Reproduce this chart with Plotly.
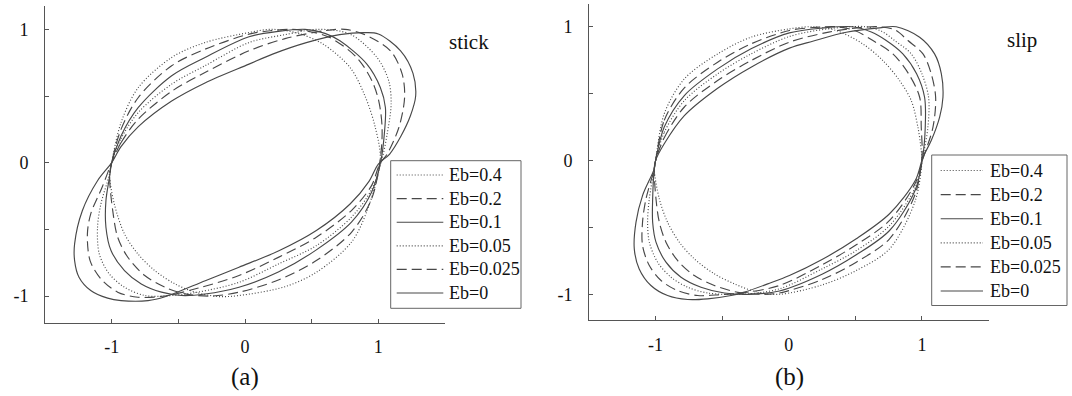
import plotly.graph_objects as go

# ---------------- data: normalised hysteresis loops ----------------
LABELS = ["Eb=0.4", "Eb=0.2", "Eb=0.1", "Eb=0.05", "Eb=0.025", "Eb=0"]
DASHES = ["1px,2px", "10px,5px", "solid", "1px,2px", "10px,5px", "solid"]
TICK_VALS_X = [-1.5, -1, -0.5, 0, 0.5, 1, 1.5]
TICK_TEXT_X = ["", "-1", "", "0", "", "1", ""]
TICK_VALS_Y = [-1, -0.5, 0, 0.5, 1]
TICK_TEXT_Y = ["-1", "", "0", "", "1"]
PANEL_TAGS = ["stick", "slip"]
PANEL_CAPTIONS = ["(a)", "(b)"]

# panel (a): stick
A_X_040 = [-1.00, -0.93, -0.80, -0.55, -0.30, 0.03, 0.20, 0.40, 0.586, 0.788, 0.90, 0.977, 1.015, 0.93, 0.80, 0.535, 0.30, -0.045, -0.197, -0.374, -0.525, -0.677, -0.803, -0.904, -0.98, -1.015, -1.00]
A_Y_040 = [0.00, 0.30, 0.564, 0.789, 0.901, 0.976, 1.00, 0.97, 0.889, 0.714, 0.50, 0.265, 0.02, -0.32, -0.594, -0.822, -0.93, -0.996, -1.004, -0.971, -0.909, -0.809, -0.684, -0.534, -0.31, -0.10, 0.00]

A_X_020 = [-1.00, -0.93, -0.80, -0.55, -0.30, 0.03, 0.20, 0.35, 0.50, 0.636, 0.838, 0.952, 1.003, 1.028, 1.015, 0.95, 0.80, 0.535, 0.25, -0.045, -0.25, -0.449, -0.601, -0.752, -0.879, -0.955, -0.992, -1.015, -1.00]
A_Y_020 = [0.00, 0.25, 0.489, 0.727, 0.851, 0.964, 0.99, 1.00, 0.98, 0.939, 0.789, 0.614, 0.464, 0.264, 0.03, -0.27, -0.52, -0.734, -0.88, -0.971, -1.00, -0.984, -0.934, -0.846, -0.709, -0.559, -0.36, -0.10, 0.00]

A_X_010 = [-1.00, -0.93, -0.80, -0.55, -0.30, 0.03, 0.25, 0.45, 0.60, 0.712, 0.914, 1.015, 1.053, 1.045, 1.02, 0.95, 0.80, 0.535, 0.25, -0.045, -0.30, -0.475, -0.626, -0.778, -0.904, -1.005, -1.043, -1.043, -1.015, -1.00]
A_Y_010 = [0.00, 0.20, 0.414, 0.652, 0.789, 0.944, 0.985, 1.00, 0.97, 0.914, 0.739, 0.564, 0.414, 0.215, 0.02, -0.22, -0.444, -0.654, -0.82, -0.934, -0.985, -0.996, -0.971, -0.909, -0.809, -0.659, -0.484, -0.285, -0.10, 0.00]

A_X_005 = [-1.00, -0.93, -0.80, -0.55, -0.30, 0.03, 0.30, 0.55, 0.788, 0.99, 1.078, 1.096, 1.066, 1.028, 0.95, 0.80, 0.535, 0.25, -0.045, -0.35, -0.60, -0.752, -0.904, -1.018, -1.093, -1.106, -1.081, -1.02, -1.00]
A_Y_005 = [0.00, 0.18, 0.377, 0.589, 0.727, 0.901, 0.96, 1.00, 0.964, 0.789, 0.614, 0.439, 0.215, 0.03, -0.20, -0.407, -0.622, -0.76, -0.897, -0.97, -1.00, -0.996, -0.934, -0.834, -0.684, -0.484, -0.31, -0.10, 0.00]

A_X_0025 = [-1.00, -0.93, -0.80, -0.55, -0.30, 0.03, 0.30, 0.60, 0.75, 0.889, 1.091, 1.179, 1.197, 1.154, 1.066, 1.01, 0.95, 0.80, 0.535, 0.25, -0.045, -0.35, -0.60, -0.803, -0.955, -1.081, -1.162, -1.182, -1.157, -1.07, -1.00]
A_Y_0025 = [0.00, 0.15, 0.327, 0.535, 0.676, 0.839, 0.93, 0.99, 1.00, 0.964, 0.839, 0.664, 0.489, 0.264, 0.065, -0.01, -0.17, -0.357, -0.559, -0.71, -0.846, -0.94, -1.00, -1.009, -0.971, -0.871, -0.734, -0.534, -0.384, -0.18, 0.00]

A_X_000 = [-1.00, -0.93, -0.80, -0.55, -0.30, 0.03, 0.207, 0.46, 0.71, 0.90, 1.00, 1.167, 1.26, 1.28, 1.24, 1.17, 1.085, 1.00, 0.93, 0.788, 0.535, 0.258, -0.045, -0.298, -0.60, -0.727, -0.929, -1.03, -1.157, -1.245, -1.278, -1.278, -1.22, -1.106, -1.00]
A_Y_000 = [0.00, 0.12, 0.27, 0.462, 0.598, 0.739, 0.814, 0.90, 0.96, 0.975, 0.965, 0.839, 0.67, 0.50, 0.35, 0.20, 0.065, -0.01, -0.14, -0.31, -0.509, -0.659, -0.784, -0.885, -1.005, -1.034, -1.034, -1.016, -0.959, -0.859, -0.734, -0.609, -0.36, -0.135, 0.00]

# panel (b): slip
B_X_040 = [-1.00, -0.935, -0.784, -0.534, -0.283, 0.005, 0.18, 0.356, 0.556, 0.707, 0.832, 0.92, 0.97, 0.995, 1.00, 0.95, 0.757, 0.507, 0.25, -0.07, -0.233, -0.408, -0.559, -0.709, -0.822, -0.91, -0.972, -1.01, -1.00]
B_Y_040 = [0.00, 0.35, 0.61, 0.797, 0.922, 0.984, 1.00, 0.972, 0.872, 0.747, 0.598, 0.448, 0.249, 0.075, 0.00, -0.30, -0.66, -0.822, -0.93, -1.00, -0.985, -0.922, -0.847, -0.735, -0.61, -0.461, -0.286, -0.062, 0.00]

B_X_020 = [-1.00, -0.935, -0.784, -0.534, -0.283, 0.005, 0.20, 0.36, 0.50, 0.632, 0.782, 0.90, 0.983, 0.995, 1.00, 0.95, 0.757, 0.507, 0.25, -0.07, -0.20, -0.383, -0.559, -0.709, -0.835, -0.922, -0.972, -0.997, -1.01, -1.00]
B_Y_020 = [0.00, 0.30, 0.543, 0.735, 0.872, 0.972, 0.995, 1.00, 0.97, 0.897, 0.797, 0.648, 0.473, 0.249, 0.03, -0.25, -0.585, -0.76, -0.89, -0.99, -1.00, -0.985, -0.934, -0.86, -0.747, -0.61, -0.461, -0.286, -0.062, 0.00]

B_X_010 = [-1.00, -0.935, -0.784, -0.534, -0.283, 0.005, 0.25, 0.48, 0.62, 0.732, 0.857, 0.96, 1.02, 1.025, 1.005, 0.95, 0.757, 0.507, 0.25, -0.07, -0.30, -0.483, -0.659, -0.809, -0.922, -0.997, -1.022, -1.022, -1.01, -1.00]
B_Y_010 = [0.00, 0.25, 0.486, 0.685, 0.835, 0.954, 0.99, 1.00, 0.96, 0.897, 0.797, 0.648, 0.473, 0.249, 0.02, -0.22, -0.523, -0.705, -0.85, -0.975, -1.00, -0.99, -0.947, -0.872, -0.76, -0.61, -0.461, -0.286, -0.062, 0.00]

B_X_005 = [-1.00, -0.935, -0.784, -0.534, -0.283, 0.005, 0.30, 0.58, 0.70, 0.795, 0.92, 1.00, 1.05, 1.045, 1.005, 0.95, 0.757, 0.507, 0.25, -0.07, -0.35, -0.609, -0.759, -0.884, -0.985, -1.047, -1.06, -1.047, -1.01, -1.00]
B_Y_005 = [0.00, 0.21, 0.448, 0.648, 0.797, 0.927, 0.985, 1.00, 0.965, 0.897, 0.797, 0.648, 0.473, 0.249, 0.02, -0.20, -0.486, -0.673, -0.81, -0.959, -1.00, -0.99, -0.947, -0.872, -0.76, -0.61, -0.461, -0.286, -0.062, 0.00]

B_X_0025 = [-1.00, -0.935, -0.784, -0.534, -0.283, 0.005, 0.30, 0.55, 0.68, 0.80, 0.895, 1.008, 1.07, 1.103, 1.083, 1.01, 0.95, 0.757, 0.507, 0.25, -0.07, -0.35, -0.55, -0.684, -0.835, -0.959, -1.047, -1.098, -1.098, -1.072, -1.01, -1.00]
B_Y_0025 = [0.00, 0.17, 0.40, 0.598, 0.747, 0.885, 0.96, 0.995, 1.00, 0.975, 0.897, 0.797, 0.648, 0.473, 0.249, 0.02, -0.17, -0.448, -0.63, -0.78, -0.934, -0.99, -1.005, -1.009, -0.972, -0.897, -0.785, -0.635, -0.461, -0.286, -0.062, 0.00]

B_X_000 = [-1.00, -0.935, -0.784, -0.534, -0.283, 0.005, 0.18, 0.432, 0.682, 0.807, 0.983, 1.095, 1.146, 1.158, 1.133, 1.07, 1.008, 0.95, 0.757, 0.507, 0.25, 0.005, -0.158, -0.333, -0.433, -0.609, -0.759, -0.91, -1.035, -1.123, -1.16, -1.147, -1.098, -1.01, -1.00]
B_Y_000 = [0.00, 0.125, 0.335, 0.54, 0.698, 0.84, 0.892, 0.959, 0.992, 1.00, 0.922, 0.797, 0.648, 0.473, 0.324, 0.149, 0.025, -0.15, -0.398, -0.585, -0.74, -0.86, -0.922, -0.984, -1.009, -1.034, -1.039, -1.009, -0.934, -0.81, -0.66, -0.461, -0.262, -0.062, 0.00]

PANEL_A = [(A_X_040, A_Y_040), (A_X_020, A_Y_020), (A_X_010, A_Y_010),
           (A_X_005, A_Y_005), (A_X_0025, A_Y_0025), (A_X_000, A_Y_000)]
PANEL_B = [(B_X_040, B_Y_040), (B_X_020, B_Y_020), (B_X_010, B_Y_010),
           (B_X_005, B_Y_005), (B_X_0025, B_Y_0025), (B_X_000, B_Y_000)]

# ---------------- layout helpers ----------------
W, H = 1072, 396
FONT = "Liberation Serif, Times New Roman, serif"
INK = "#484848"


def px(x):
    return x / W


def py(y):
    return 1 - y / H


fig = go.Figure()

for panel, (xa, ya) in ((PANEL_A, ("x", "y")), (PANEL_B, ("x2", "y2"))):
    for (xs, ys), dash in zip(panel, DASHES):
        fig.add_trace(go.Scatter(
            x=xs, y=ys, mode="lines", xaxis=xa, yaxis=ya,
            line=dict(color=INK, width=1.15, dash=dash, shape="spline", smoothing=0.9),
            showlegend=False, hoverinfo="skip",
        ))

axis_common = dict(
    showline=True, linecolor="#555", linewidth=1, showgrid=False, zeroline=False,
    ticks="inside", ticklen=4, tickcolor="#555", tickwidth=1,
    tickfont=dict(family=FONT, size=18, color="#111"),
)

fig.update_layout(
    width=W, height=H,
    margin=dict(l=0, r=0, t=0, b=0),
    paper_bgcolor="white", plot_bgcolor="white",
    font=dict(family=FONT, color="#111"),
    xaxis=dict(domain=[px(45), px(445)], range=[-1.5, 1.5], anchor="y",
               tickvals=TICK_VALS_X, ticktext=TICK_TEXT_X, ticklabelstandoff=8, **axis_common),
    yaxis=dict(domain=[py(322.7), py(6)], range=[-1.2, 1.175], anchor="x",
               tickvals=TICK_VALS_Y, ticktext=TICK_TEXT_Y, ticklabelstandoff=12, **axis_common),
    xaxis2=dict(domain=[px(589), px(988.5)], range=[-1.5, 1.5], anchor="y2",
                tickvals=TICK_VALS_X, ticktext=TICK_TEXT_X, ticklabelstandoff=8, **axis_common),
    yaxis2=dict(domain=[py(320), py(4)], range=[-1.192, 1.17], anchor="x2",
                tickvals=TICK_VALS_Y, ticktext=TICK_TEXT_Y, ticklabelstandoff=12, **axis_common),
)

shapes = []
annotations = []

# hand-drawn legends, one per panel
legend_boxes = [
    dict(x0=390.7, x1=521.0, y0=160.7, y1=308.3, line_x0=396.7, line_x1=443.3, text_x=447.0, row0=175.0, step=23.6),
    dict(x0=931.7, x1=1067.0, y0=155.0, y1=305.5, line_x0=940.7, line_x1=983.0, text_x=988.0, row0=170.5, step=24.1),
]
for box in legend_boxes:
    shapes.append(dict(type="rect", xref="paper", yref="paper",
                       x0=px(box["x0"]), x1=px(box["x1"]), y0=py(box["y1"]), y1=py(box["y0"]),
                       line=dict(color="#666", width=1), fillcolor="white", layer="above"))
    for i, (label, dash) in enumerate(zip(LABELS, DASHES)):
        yy = box["row0"] + i * box["step"]
        shapes.append(dict(type="line", xref="paper", yref="paper",
                           x0=px(box["line_x0"]), x1=px(box["line_x1"]), y0=py(yy), y1=py(yy),
                           line=dict(color=INK, width=1.15, dash=dash), layer="above"))
        annotations.append(dict(xref="paper", yref="paper", x=px(box["text_x"]), y=py(yy),
                                text=label, showarrow=False, xanchor="left", yanchor="middle",
                                font=dict(family=FONT, size=18, color="#111")))

# panel tags and captions
for tag, tx, ty in zip(PANEL_TAGS, (447, 1005), (42, 40)):
    annotations.append(dict(xref="paper", yref="paper", x=px(tx), y=py(ty), text=tag,
                            showarrow=False, xanchor="left", yanchor="middle",
                            font=dict(family=FONT, size=21, color="#111")))
for cap, cx in zip(PANEL_CAPTIONS, (245, 789)):
    annotations.append(dict(xref="paper", yref="paper", x=px(cx), y=py(377), text=cap,
                            showarrow=False, xanchor="center", yanchor="middle",
                            font=dict(family=FONT, size=25, color="#111")))

fig.update_layout(shapes=shapes, annotations=annotations)
fig.write_html("out.html")
